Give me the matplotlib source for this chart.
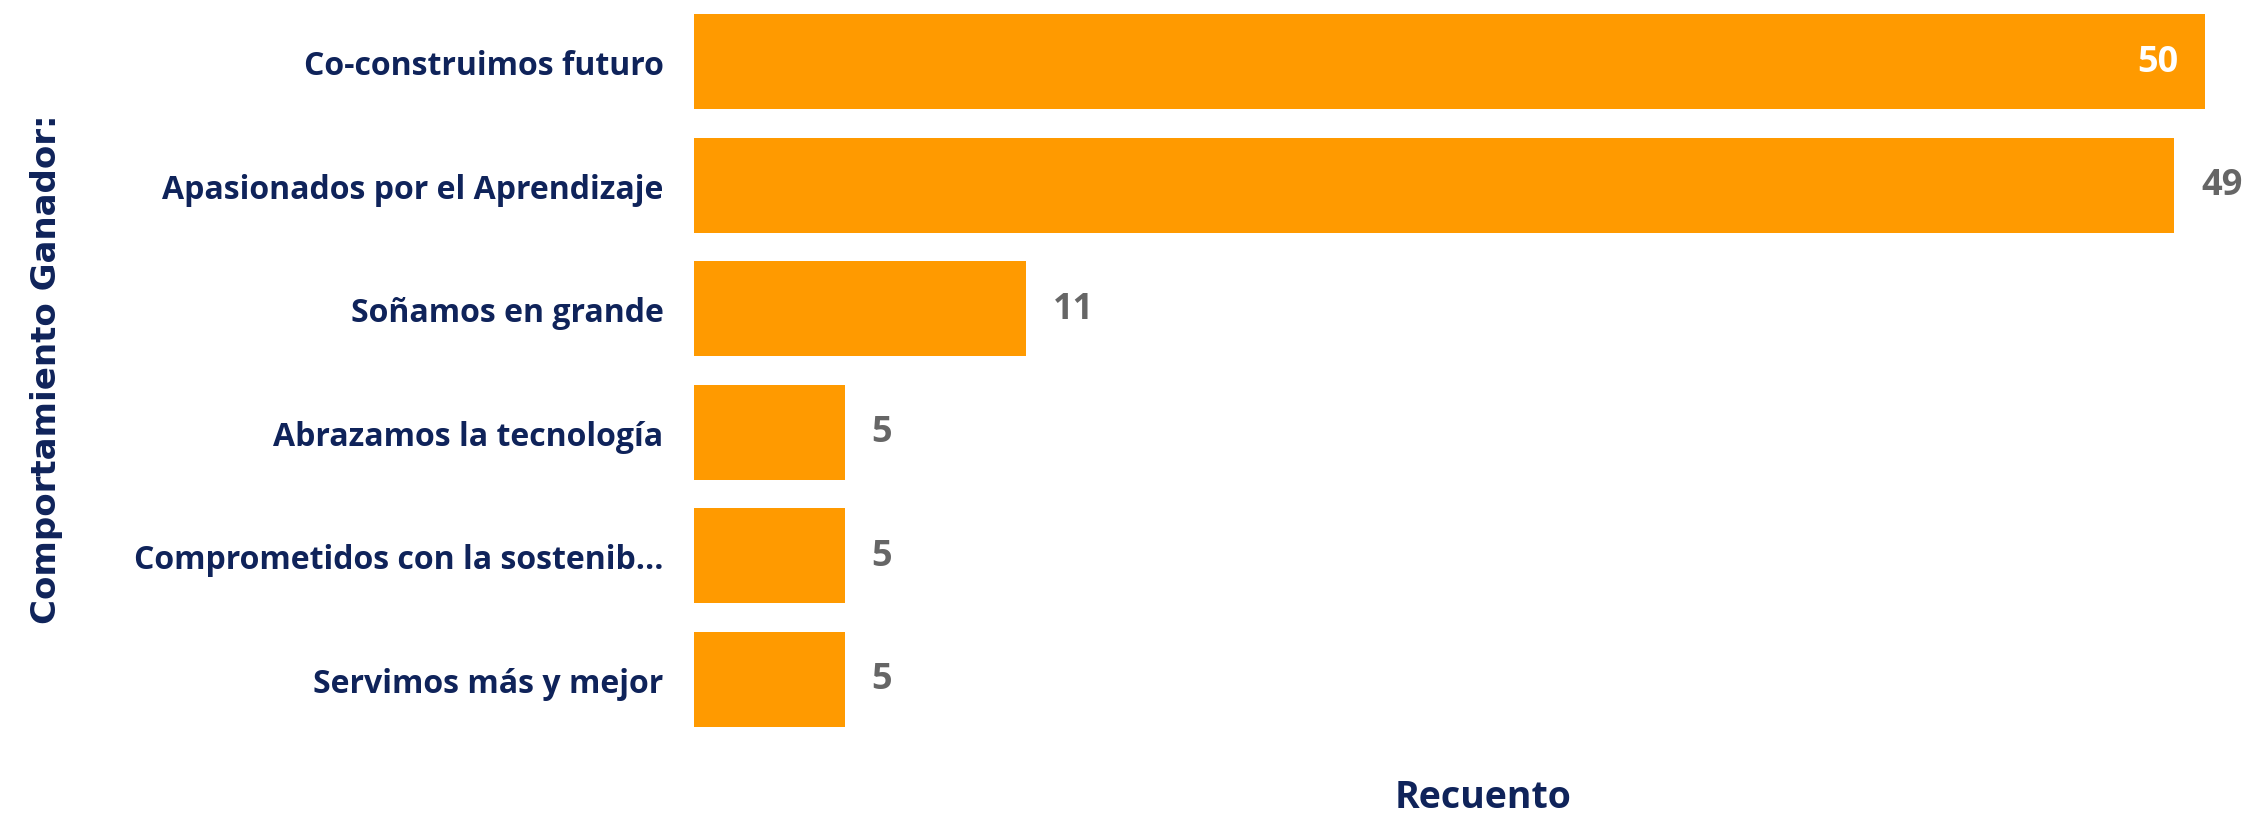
import matplotlib.pyplot as plt

# Datos
categorias = ['Co-construimos futuro', 'Apasionados por el Aprendizaje', 'Soñamos en grande',
              'Abrazamos la tecnología', 'Comprometidos con la sostenib...', 'Servimos más y mejor']
recuento = [50, 49, 11, 5, 5, 5]

naranja = '#FF9A00'
azul = '#0F235A'
gris = '#666666'

fig = plt.figure(figsize=(22.47, 8.2), dpi=100)
ax = fig.add_axes([0.3089, 0.095, 0.6911, 0.904])

pos = list(range(len(categorias)))
ax.barh(pos, recuento, height=0.77, color=naranja)
ax.set_ylim(len(categorias) - 0.5, -0.5)
ax.set_xlim(0, 51.4)

ax.set_yticks(pos)
ax.set_yticklabels(categorias, fontsize=23, fontweight='bold', color=azul, family='Open Sans')
ax.tick_params(axis='y', length=0, pad=22)
ax.set_xticks([])
for s in ax.spines.values():
    s.set_visible(False)

# Etiquetas de datos
for i, v in enumerate(recuento):
    if v == max(recuento):
        ax.annotate(str(v), (v, i), xytext=(-19, 0), textcoords='offset points',
                    ha='right', va='center', fontsize=26, fontweight='bold',
                    color='white', family='Open Sans')
    else:
        ax.annotate(str(v), (v, i), xytext=(19, 0), textcoords='offset points',
                    ha='left', va='center', fontsize=26, fontweight='bold',
                    color=gris, family='Open Sans')

fig.text(0.0205, 0.55, 'Comportamiento Ganador:', rotation=90, ha='center', va='center',
         fontsize=24.5, fontweight='bold', color=azul, family='DejaVu Sans')
fig.text(0.66, 0.027, 'Recuento', ha='center', va='center',
         fontsize=27, fontweight='bold', color=azul, family='Open Sans')

fig.savefig('out.png', dpi=100)
